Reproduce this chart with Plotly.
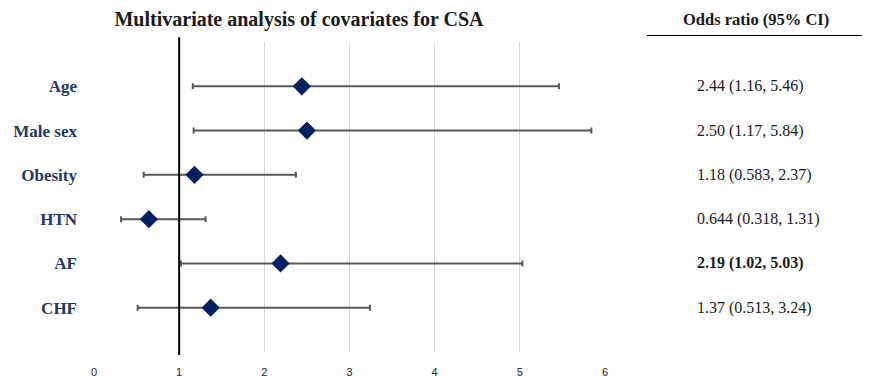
import plotly.graph_objects as go

categories = ["Age", "Male sex", "Obesity", "HTN", "AF", "CHF"]
odds = [2.44, 2.50, 1.18, 0.644, 2.19, 1.37]
ci_low = [1.16, 1.17, 0.583, 0.318, 1.02, 0.513]
ci_high = [5.46, 5.84, 2.37, 1.31, 5.03, 3.24]
labels = ["2.44 (1.16, 5.46)", "2.50 (1.17, 5.84)", "1.18 (0.583, 2.37)",
          "0.644 (0.318, 1.31)", "2.19 (1.02, 5.03)", "1.37 (0.513, 3.24)"]
bold_rows = ["AF"]
x_ticks = [0, 1, 2, 3, 4, 5, 6]

n = len(categories)
ypos = [n - i for i in range(n)]

fig = go.Figure()
fig.add_trace(go.Scatter(
    x=odds, y=ypos, mode="markers",
    marker=dict(symbol="diamond", size=14, color="#002060"),
    error_x=dict(type="data", symmetric=False,
                 array=[h - v for h, v in zip(ci_high, odds)],
                 arrayminus=[v - l for v, l in zip(odds, ci_low)],
                 color="#595959", thickness=2, width=3),
    hoverinfo="skip", showlegend=False,
))

serif = "Liberation Serif"
W, H = 862, 369
annotations = []
for cat, y, lab in zip(categories, ypos, labels):
    txt = f"<b>{lab}</b>" if cat in bold_rows else lab
    annotations.append(dict(x=1.176, xref="paper", y=y, yref="y", text=txt,
                            showarrow=False, xanchor="left", yanchor="middle",
                            font=dict(family=serif, size=16, color="#1a1a1a")))
annotations.append(dict(x=1.296, xref="paper", y=1.073, yref="paper",
                        text="<b>Odds ratio (95% CI)</b>", showarrow=False,
                        xanchor="center", yanchor="middle",
                        font=dict(family=serif, size=16.5, color="#1a1a1a")))

fig.update_layout(
    width=W, height=H,
    margin=dict(l=86, r=265, t=34, b=25),
    plot_bgcolor="white", paper_bgcolor="white",
    title=dict(text="<b>Multivariate analysis of covariates for CSA</b>",
               x=291 / W, xanchor="center", y=1 - 4 / H, yanchor="top",
               pad=dict(t=0, b=0),
               font=dict(family=serif, size=20, color="#1a1a1a")),
    xaxis=dict(range=[0, 6], tickvals=x_ticks, showgrid=True,
               gridcolor="#d9d9d9", gridwidth=1, zeroline=False,
               showline=False, ticks="", automargin=False,
               ticklabelstandoff=12,
               tickfont=dict(family="Liberation Sans", size=11, color="#262626")),
    yaxis=dict(range=[0, 7], tickvals=ypos, ticktext=[f"<b>{c}</b>" for c in categories],
               showgrid=False, zeroline=False, showline=False, ticks="",
               ticklabelstandoff=16, automargin=False,
               tickfont=dict(family=serif, size=17, color="#1F3864")),
    annotations=annotations,
    shapes=[
        dict(type="line", xref="x", yref="paper", x0=1, x1=1, y0=-0.01, y1=1.015,
             line=dict(color="black", width=2)),
        dict(type="line", xref="paper", yref="paper", x0=1.082, x1=1.52,
             y0=1.021, y1=1.021, line=dict(color="black", width=1)),
    ],
)

fig.write_html("out.html")
